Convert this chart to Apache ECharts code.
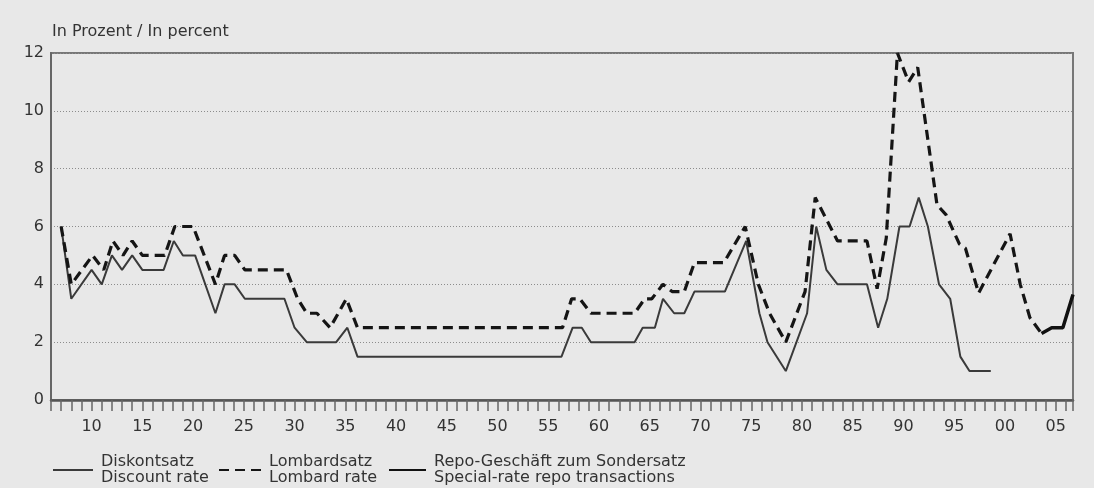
<!DOCTYPE html>
<html>
<head>
<meta charset="utf-8">
<script src="https://cdn.jsdelivr.net/npm/echarts@6/dist/echarts.min.js"></script>
<style>
  html, body { margin: 0; padding: 0; background: #e8e8e8; }
  #chart { width: 1094px; height: 488px; }
</style>
</head>
<body>
<div id="chart"></div>
<script>
// [year, percent]
var discountRate = [
  [1907, 6], [1908, 3.5], [1910, 4.5], [1911, 4], [1912, 5], [1913, 4.5], [1914, 5],
  [1915, 4.5], [1917.1, 4.5], [1918.1, 5.5], [1919, 5], [1920.2, 5], [1922.2, 3],
  [1923.1, 4], [1924.1, 4], [1925.1, 3.5], [1929, 3.5], [1930, 2.5], [1931.2, 2],
  [1934.1, 2], [1935.2, 2.5], [1936.2, 1.5], [1956.3, 1.5], [1957.4, 2.5], [1958.3, 2.5],
  [1959.2, 2], [1963.5, 2], [1964.3, 2.5], [1965.5, 2.5], [1966.3, 3.5], [1967.4, 3],
  [1968.4, 3], [1969.4, 3.75], [1972.4, 3.75], [1974.5, 5.5], [1975.8, 3], [1976.6, 2],
  [1978.4, 1], [1980.5, 3], [1981.4, 6], [1982.4, 4.5], [1983.5, 4], [1986.4, 4],
  [1987.5, 2.5], [1988.4, 3.5], [1989.6, 6], [1990.6, 6], [1991.5, 7], [1992.4, 6],
  [1993.5, 4], [1994.6, 3.5], [1995.6, 1.5], [1996.5, 1], [1998.6, 1]
];
var lombardRate = [
  [1907, 6], [1908, 4], [1910.1, 5], [1911.2, 4.5], [1912.1, 5.5], [1913.1, 5], [1914, 5.5],
  [1915, 5], [1917.2, 5], [1918.2, 6], [1920, 6], [1922.2, 4], [1923.1, 5], [1924.1, 5],
  [1925.1, 4.5], [1929.2, 4.5], [1930.3, 3.5], [1931.2, 3], [1932.2, 3], [1933.5, 2.5],
  [1935.1, 3.5], [1936.2, 2.5], [1956.4, 2.5], [1957.3, 3.5], [1958.1, 3.5], [1959.2, 3],
  [1963.5, 3], [1964.5, 3.5], [1965.2, 3.5], [1966.3, 4], [1967.2, 3.75], [1968.4, 3.75],
  [1969.4, 4.75], [1972.3, 4.75], [1974.4, 6], [1975.7, 4], [1976.8, 3], [1978.4, 2],
  [1980.3, 3.75], [1981.3, 7], [1983.5, 5.5], [1986.4, 5.5], [1987.4, 3.85], [1988.3, 5.6],
  [1989.4, 12], [1990.5, 11], [1991.4, 11.5], [1993.3, 6.75], [1994.2, 6.4], [1995.5, 5.4],
  [1996.1, 5.25], [1997.4, 3.7], [2000.5, 5.75], [2001.5, 4], [2002.45, 2.85], [2003.6, 2.3]
];
var repoRate = [
  [2003.6, 2.3], [2004.6, 2.5], [2005.7, 2.5], [2006.7, 3.65]
];
var seriesNames = ['Diskontsatz', 'Lombardsatz', 'Repo-Geschäft zum Sondersatz'];
var englishNames = {
  'Diskontsatz': 'Discount rate',
  'Lombardsatz': 'Lombard rate',
  'Repo-Geschäft zum Sondersatz': 'Special-rate repo transactions'
};
var yTicks = [0, 2, 4, 6, 8, 10, 12];

var font = 'DejaVu Sans';
var chart = echarts.init(document.getElementById('chart'));

function legendFor(name, left, iconWidth) {
  return {
    data: [name],
    left: left,
    top: 454,
    padding: 0,
    itemWidth: iconWidth,
    itemHeight: 12,
    selectedMode: false,
    // hide the symbol drawn in the middle of the line icon
    itemStyle: { opacity: 0, color: 'rgba(0,0,0,0)', borderWidth: 0 },
    formatter: function (n) { return n + '\n' + englishNames[n]; },
    textStyle: {
      fontFamily: font, fontSize: 16, lineHeight: 16, color: '#333',
      padding: [0, 0, 0, 3]
    }
  };
}

var option = {
  backgroundColor: '#e8e8e8',
  animation: false,
  title: {
    text: 'In Prozent / In percent',
    left: 52,
    top: 24,
    padding: 0,
    textStyle: { fontFamily: font, fontSize: 16, fontWeight: 'normal', color: '#333' }
  },
  legend: [
    legendFor(seriesNames[0], 52, 40),
    legendFor(seriesNames[1], 218, 42),
    legendFor(seriesNames[2], 388, 37)
  ],
  grid: {
    left: 51, right: 21, top: 53, bottom: 88,
    show: true,
    borderColor: '#777',
    borderWidth: 2,
    backgroundColor: 'transparent'
  },
  xAxis: {
    type: 'value',
    min: 1906,
    max: 2006.7,
    interval: 1,
    axisLine: { show: true, onZero: false, lineStyle: { color: '#555', width: 2.5 } },
    axisTick: { show: true, length: 11, lineStyle: { color: '#666', width: 1.5 } },
    axisLabel: {
      margin: 19,
      fontFamily: font, fontSize: 16, color: '#333',
      showMinLabel: true, showMaxLabel: true,
      formatter: function (v) {
        var y = Math.round(v);
        if (Math.abs(v - y) > 1e-6 || y % 5 !== 0) return '';
        return String(y).slice(2);
      }
    },
    splitLine: { show: false }
  },
  yAxis: {
    type: 'value',
    min: yTicks[0],
    max: yTicks[yTicks.length - 1],
    interval: 2,
    axisLine: { show: true, lineStyle: { color: '#666', width: 2 } },
    axisTick: { show: false },
    axisLabel: { margin: 7, fontFamily: font, fontSize: 16, color: '#333' },
    splitLine: { show: true, lineStyle: { color: '#8c8c8c', width: 1, type: [1, 2] } }
  },
  series: [
    {
      name: seriesNames[0],
      type: 'line',
      symbol: 'none',
      data: discountRate,
      lineStyle: { color: '#3a3a3a', width: 2 },
      itemStyle: { color: '#3a3a3a' },
      z: 3
    },
    {
      name: seriesNames[1],
      type: 'line',
      symbol: 'none',
      data: lombardRate,
      lineStyle: { color: '#151515', width: 3.2, type: [10, 6] },
      itemStyle: { color: '#151515' },
      z: 4
    },
    {
      name: seriesNames[2],
      type: 'line',
      symbol: 'none',
      data: repoRate,
      lineStyle: { color: '#111', width: 3.5 },
      itemStyle: { color: '#111' },
      z: 5
    }
  ]
};

chart.setOption(option);
</script>
</body>
</html>
